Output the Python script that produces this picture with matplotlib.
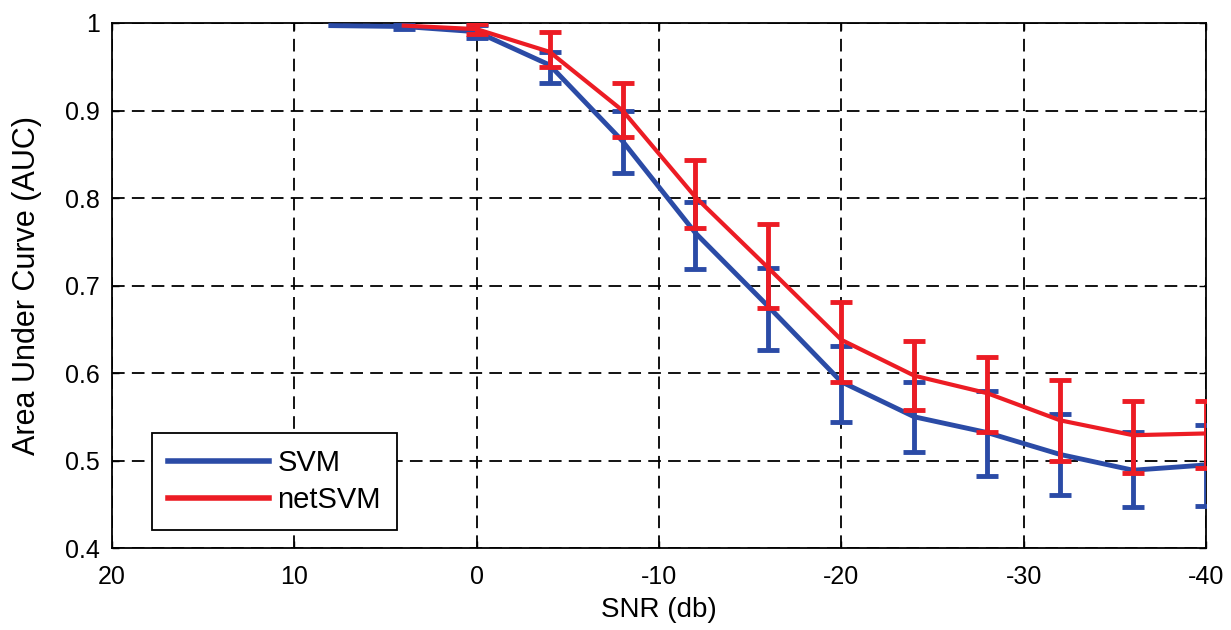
import matplotlib
matplotlib.use('Agg')
import matplotlib.pyplot as plt

plt.rcParams['font.family'] = ['Liberation Sans', 'DejaVu Sans']
plt.rcParams['axes.unicode_minus'] = False

# SVM curve (line starts at 8 dB, error bars from 4 dB)
svm_snr = [8, 4, 0, -4, -8, -12, -16, -20, -24, -28, -32, -36, -40]
svm_auc = [0.997, 0.996, 0.990, 0.952, 0.865, 0.760, 0.676, 0.590, 0.550, 0.532, 0.507, 0.489, 0.495]
svm_lo = [0.993, 0.983, 0.932, 0.829, 0.719, 0.626, 0.544, 0.510, 0.482, 0.461, 0.447, 0.448]
svm_hi = [0.998, 0.998, 0.967, 0.900, 0.796, 0.720, 0.631, 0.590, 0.579, 0.553, 0.533, 0.541]

# netSVM curve (line starts at 4 dB, error bars from 0 dB)
net_snr = [4, 0, -4, -8, -12, -16, -20, -24, -28, -32, -36, -40]
net_auc = [0.997, 0.993, 0.967, 0.900, 0.801, 0.720, 0.638, 0.597, 0.577, 0.546, 0.529, 0.531]
net_lo = [0.987, 0.950, 0.870, 0.766, 0.674, 0.590, 0.558, 0.533, 0.500, 0.486, 0.492]
net_hi = [0.999, 0.990, 0.931, 0.843, 0.770, 0.681, 0.637, 0.618, 0.592, 0.568, 0.568]

blue = '#2b4ba6'
red = '#ec1c24'

fig = plt.figure(figsize=(12.31, 6.30), dpi=100)
ax = fig.add_axes([0.091, 0.130, 0.8887, 0.8335])

# error bars
def draw_err(snr, auc, lo, hi, col):
    e_lo = [a - l for a, l in zip(auc, lo)]
    e_hi = [h - a for a, h in zip(auc, hi)]
    ax.errorbar(snr, auc, yerr=[e_lo, e_hi], fmt='none', ecolor=col,
                elinewidth=3.5, capsize=8, capthick=3.5, zorder=3)

ax.plot(svm_snr, svm_auc, color=blue, lw=3.5, label='SVM', zorder=3)
draw_err(svm_snr[1:], svm_auc[1:], svm_lo, svm_hi, blue)
ax.plot(net_snr, net_auc, color=red, lw=3, label='netSVM', zorder=4)
draw_err(net_snr[1:], net_auc[1:], net_lo, net_hi, red)

ax.set_xlim(20, -40)
ax.set_ylim(0.4, 1.0)
ax.set_xticks([20, 10, 0, -10, -20, -30, -40])
ax.set_yticks([0.4, 0.5, 0.6, 0.7, 0.8, 0.9, 1.0])
ax.set_yticklabels(['0.4', '0.5', '0.6', '0.7', '0.8', '0.9', '1'])
ax.tick_params(direction='in', length=5, width=1, top=True, right=True)
ax.tick_params(axis='y', labelsize=18, pad=9)
ax.tick_params(axis='x', labelsize=18, pad=12)
ax.grid(True, color='black', linestyle=(0, (7, 4)), linewidth=1.3)
for s in ax.spines.values():
    s.set_linewidth(1.3)

ax.set_xlabel('SNR (db)', fontsize=20)
ax.xaxis.set_label_coords(0.5, -0.093)
ax.set_ylabel('Area Under Curve (AUC)', fontsize=22)
ax.yaxis.set_label_coords(-0.064, 0.5)

leg = ax.legend(loc='lower left', bbox_to_anchor=(0.0366, 0.034),
                borderaxespad=0, fontsize=21, handlelength=3.45,
                handletextpad=0.3, labelspacing=0.3, borderpad=0.55,
                fancybox=False, framealpha=1, edgecolor='black')
leg.get_frame().set_linewidth(1.3)
for ln in leg.get_lines():
    ln.set_linewidth(4)

fig.savefig('out.png', dpi=100)
